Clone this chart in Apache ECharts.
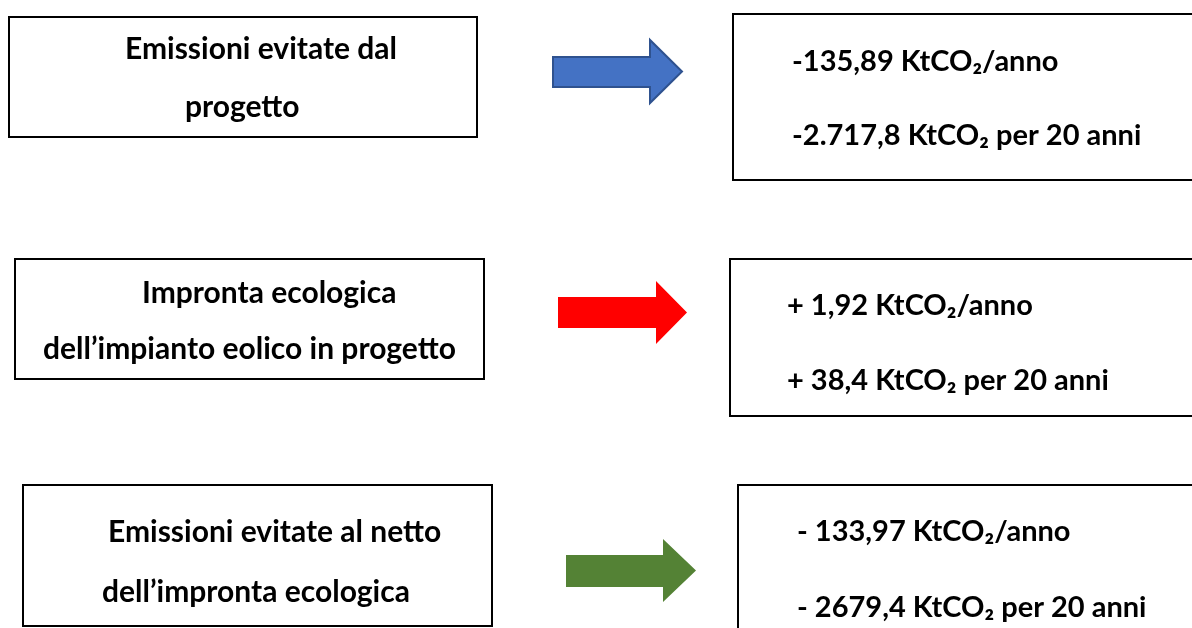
<!DOCTYPE html>
<html>
<head>
<meta charset="utf-8">
<script src="https://cdn.jsdelivr.net/npm/echarts@6/dist/echarts.min.js"></script>
<style>
html,body{margin:0;padding:0;background:#fff;}
#chart{width:1192px;height:628px;}
</style>
</head>
<body>
<div id="chart"></div>
<script>
// ---- content ----
const leftLabels = [
  ["Emissioni evitate dal", "progetto"],
  ["Impronta ecologica", "dell\u2019impianto eolico in progetto"],
  ["Emissioni evitate al netto", "dell\u2019impronta ecologica"]
];
const annualValues = ["-135,89", "+ 1,92", "- 133,97"];
const totalValues = ["-2.717,8", "+ 38,4", "- 2679,4"];
const annualUnit = " KtCO\u2082/anno";
const totalUnit = " KtCO\u2082 per 20 anni";
const arrowColors = ["#4472C4", "#FF0000", "#548235"];
const arrowStrokes = ["#2F528F", null, null];

// ---- layout ----
const leftBoxes = [
  {x: 9, y: 17, w: 468, h: 120},
  {x: 15, y: 259, w: 469, h: 120},
  {x: 23, y: 485, w: 469, h: 141}
];
const leftText = [
  [{x: 125, y: 49}, {x: 185, y: 107}],
  [{x: 142, y: 293}, {x: 43, y: 349}],
  [{x: 108, y: 532}, {x: 102, y: 592}]
];
const rightBoxes = [
  {x: 733, y: 14, w: 470, h: 166},
  {x: 730, y: 259, w: 470, h: 157},
  {x: 738, y: 485, w: 470, h: 160}
];
const rightText = [
  [{x: 792, y: 62}, {x: 792, y: 136}],
  [{x: 787, y: 306}, {x: 787, y: 381}],
  [{x: 797, y: 532}, {x: 797, y: 608}]
];
// arrow geometry: shaft left, shaft top, shaft bottom, head x, head top, head bottom, tip x
const arrows = [
  {l: 553, st: 57, sb: 87, hx: 650, ht: 40, hb: 103, tx: 682},
  {l: 558, st: 297, sb: 328, hx: 656, ht: 281, hb: 344, tx: 687},
  {l: 566, st: 555, sb: 587, hx: 663, ht: 539, hb: 602, tx: 696}
];

const FONT = 'Lato, "Open Sans", sans-serif';
const FS_LEFT = 30;
const FS_RIGHT = 29;

const graphics = [];
leftBoxes.forEach(function (b, i) {
  graphics.push({type: 'rect', shape: {x: b.x, y: b.y, width: b.w, height: b.h},
    style: {fill: '#fff', stroke: '#000', lineWidth: 2}});
  leftLabels[i].forEach(function (t, j) {
    graphics.push({type: 'text', x: leftText[i][j].x, y: leftText[i][j].y,
      style: {text: t, font: 'bold ' + FS_LEFT + 'px ' + FONT, fill: '#000',
        textAlign: 'left', textVerticalAlign: 'middle'}});
  });
});
rightBoxes.forEach(function (b, i) {
  graphics.push({type: 'rect', shape: {x: b.x, y: b.y, width: b.w, height: b.h},
    style: {fill: '#fff', stroke: '#000', lineWidth: 2}});
  graphics.push({type: 'text', x: rightText[i][0].x, y: rightText[i][0].y,
    style: {text: annualValues[i] + annualUnit, font: 'bold ' + FS_RIGHT + 'px ' + FONT, fill: '#000',
      textAlign: 'left', textVerticalAlign: 'middle'}});
  graphics.push({type: 'text', x: rightText[i][1].x, y: rightText[i][1].y,
    style: {text: totalValues[i] + totalUnit, font: 'bold ' + FS_RIGHT + 'px ' + FONT, fill: '#000',
      textAlign: 'left', textVerticalAlign: 'middle'}});
});
arrows.forEach(function (a, i) {
  const mid = (a.ht + a.hb) / 2;
  const style = {fill: arrowColors[i]};
  if (arrowStrokes[i]) { style.stroke = arrowStrokes[i]; style.lineWidth = 2; }
  graphics.push({type: 'polygon', shape: {points: [
    [a.l, a.st], [a.hx, a.st], [a.hx, a.ht], [a.tx, mid],
    [a.hx, a.hb], [a.hx, a.sb], [a.l, a.sb]]}, style: style});
});

const chart = echarts.init(document.getElementById('chart'), null, {renderer: 'canvas'});
chart.setOption({backgroundColor: '#fff', animation: false, graphic: graphics});
</script>
</body>
</html>
